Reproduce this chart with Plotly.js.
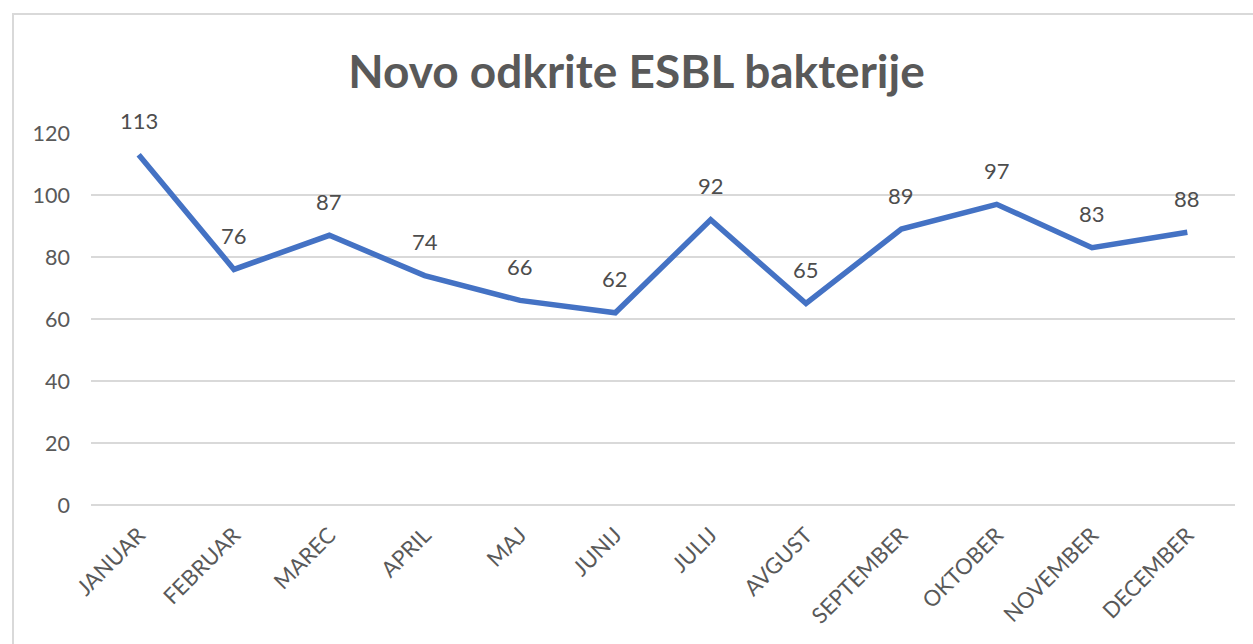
<!DOCTYPE html>
<html>
<head>
<meta charset="utf-8">
<script src="https://cdn.plot.ly/plotly-3.0.1.min.js"></script>
<style>html,body{margin:0;padding:0;background:#fff;}#chart{width:1253px;height:644px;}</style>
</head>
<body>
<div id="chart"></div>
<script>
const months = ["JANUAR","FEBRUAR","MAREC","APRIL","MAJ","JUNIJ","JULIJ","AVGUST","SEPTEMBER","OKTOBER","NOVEMBER","DECEMBER"];
const cases = [113, 76, 87, 74, 66, 62, 92, 65, 89, 97, 83, 88];
const yTicks = [0, 20, 40, 60, 80, 100, 120];
const chartTitle = "Novo odkrite ESBL bakterije";

const trace = {
  type: "scatter",
  mode: "lines",
  x: months,
  y: cases,
  line: {color: "#4472C4", width: 5.5},
  hoverinfo: "x+y"
};

const annotations = months.map((m, i) => ({
  x: m, y: cases[i], text: String(cases[i]),
  showarrow: false, yshift: 34, yanchor: "middle",
  font: {family: "Lato, sans-serif", size: 22, color: "#4d4d4d"}
}));

const layout = {
  width: 1253, height: 644,
  margin: {l: 91, r: 18, t: 133, b: 139},
  paper_bgcolor: "#ffffff", plot_bgcolor: "#ffffff",
  showlegend: false,
  title: {
    text: chartTitle,
    x: 0.508, xanchor: "center",
    y: 1 - 72/644, yref: "container", yanchor: "middle",
    font: {family: "Lato, sans-serif", size: 46, color: "#595959", weight: 700}
  },
  xaxis: {
    type: "category",
    range: [-0.5, 11.5],
    tickangle: -45,
    showgrid: false, showline: false, zeroline: false,
    ticks: "", ticklabelstandoff: 12,
    tickfont: {family: "Lato, sans-serif", size: 22, color: "#595959"}
  },
  yaxis: {
    range: [0, 120],
    tickvals: yTicks,
    showgrid: true, gridcolor: "#d9d9d9", gridwidth: 1.5,
    zeroline: true, zerolinecolor: "#d9d9d9", zerolinewidth: 1.5,
    showline: false, ticks: "", ticklabelstandoff: 20,
    tickfont: {family: "Lato, sans-serif", size: 21.5, color: "#595959"}
  },
  annotations: annotations,
  shapes: [{
    type: "rect", xref: "paper", yref: "paper", layer: "below",
    x0: (13 - 91) / 1144, x1: (1270 - 91) / 1144,
    y0: (505 - 660) / 372, y1: (505 - 14) / 372,
    line: {color: "#d9d9d9", width: 2}, fillcolor: "rgba(0,0,0,0)"
  }]
};

Plotly.newPlot("chart", [trace], layout, {displayModeBar: false});
</script>
</body>
</html>
